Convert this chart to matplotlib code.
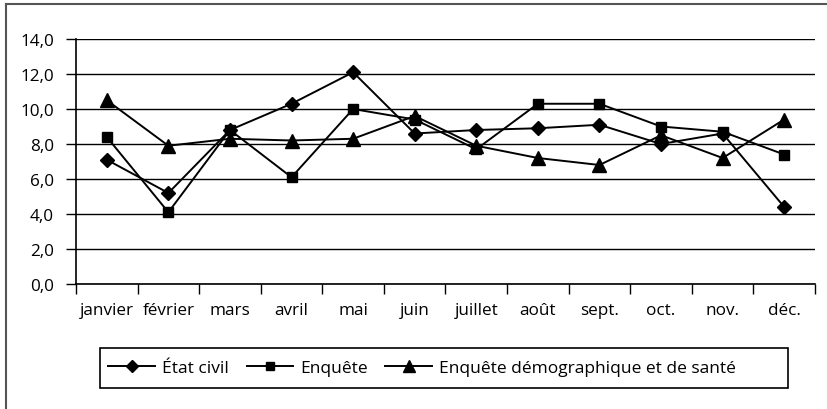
import matplotlib
matplotlib.use("Agg")
import matplotlib.pyplot as plt
from matplotlib.lines import Line2D
from matplotlib.patches import Rectangle
from matplotlib.ticker import FuncFormatter, FixedLocator
import numpy as np

plt.rcParams['font.family'] = ['Open Sans', 'DejaVu Sans']

months = ["janvier", "février", "mars", "avril", "mai", "juin", "juillet",
          "août", "sept.", "oct.", "nov.", "déc."]
etat_civil = [7.1, 5.2, 8.8, 10.3, 12.1, 8.6, 8.8, 8.9, 9.1, 8.0, 8.6, 4.4]
enquete = [8.4, 4.1, 8.8, 6.1, 10.0, 9.4, 7.7, 10.3, 10.3, 9.0, 8.7, 7.4]
eds = [10.5, 7.9, 8.3, 8.2, 8.3, 9.6, 7.9, 7.2, 6.8, 8.5, 7.2, 9.4]
series_labels = ["État civil", "Enquête", "Enquête démographique et de santé"]
yticks = [0, 2, 4, 6, 8, 10, 12, 14]

W, H = 828, 410
fig = plt.figure(figsize=(W / 100, H / 100), dpi=100)

# outer frame (only top and left visible)
fig.add_artist(Line2D([6 / W, 6 / W], [0, 1 - 5 / H], transform=fig.transFigure,
                      color="#555555", lw=1.5))
fig.add_artist(Line2D([6 / W, 1], [1 - 5 / H, 1 - 5 / H], transform=fig.transFigure,
                      color="#555555", lw=1.5))

ax = fig.add_axes([76 / W, 1 - 285 / H, (815 - 76) / W, (285 - 40) / H])
x = np.arange(len(months))

style = dict(color="black", lw=1.4)
l1, = ax.plot(x, etat_civil, marker="D", ms=7, **style, label=series_labels[0])
l2, = ax.plot(x, enquete, marker="s", ms=7.5, **style, label=series_labels[1])
l3, = ax.plot(x, eds, marker="^", ms=10, **style, label=series_labels[2])

ax.set_xlim(-0.5, len(months) - 0.5)
ax.set_ylim(0, 14)
ax.set_yticks(yticks)
ax.yaxis.set_major_formatter(FuncFormatter(lambda v, p: f"{v:.1f}".replace(".", ",")))
ax.grid(axis="y", color="black", lw=1.0)
ax.set_axisbelow(True)

ax.xaxis.set_major_locator(FixedLocator(np.arange(-0.5, len(months), 1.0)))
ax.xaxis.set_minor_locator(FixedLocator(x))
ax.set_xticklabels([], minor=False)
ax.set_xticks(x, months, minor=True)
ax.tick_params(axis="x", which="major", length=7, width=1, color="black")
ax.tick_params(axis="x", which="minor", length=0, pad=13, labelsize=12.3)
ax.tick_params(axis="y", length=7, width=1, pad=9, labelsize=12.3)

for s in ["top", "right"]:
    ax.spines[s].set_visible(False)
ax.spines["left"].set_linewidth(1.2)
ax.spines["bottom"].set_linewidth(1.2)

# legend box
fig.add_artist(Rectangle((100 / W, 1 - 389 / H), 688 / W, 40 / H,
                         transform=fig.transFigure, fill=False,
                         edgecolor="black", lw=1.2))
fig.legend(handles=[l1, l2, l3], loc="center left",
           bbox_to_anchor=(105 / W, 1 - 369 / H), ncol=3, frameon=False,
           handlelength=2.7, columnspacing=1.0, handletextpad=0.4,
           borderpad=0.2, borderaxespad=0.0, fontsize=12.5, markerscale=0.85)

fig.savefig("out.png", dpi=100)
